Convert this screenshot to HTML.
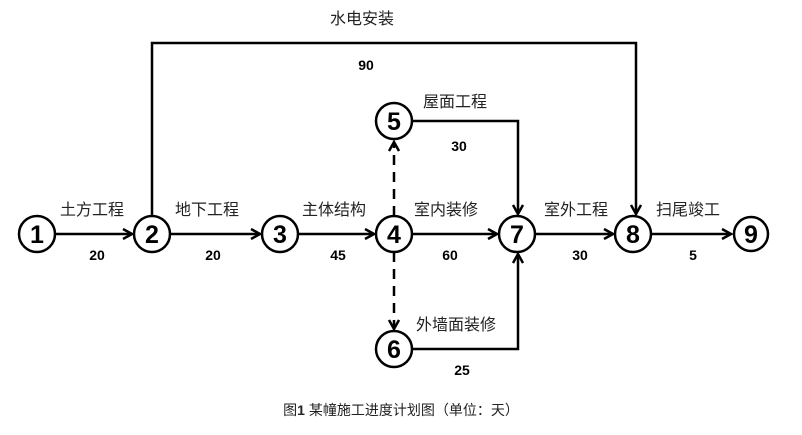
<!DOCTYPE html>
<html><head><meta charset="utf-8"><style>
html,body{margin:0;padding:0;background:#fff;}
svg text{font-family:"Liberation Sans","Noto Sans CJK SC",sans-serif;}
</style></head><body>
<svg width="802" height="430" viewBox="0 0 802 430" xmlns="http://www.w3.org/2000/svg">
<defs>
<marker id="a" markerWidth="12" markerHeight="12" refX="10" refY="6" orient="auto" markerUnits="userSpaceOnUse">
<path d="M1,1 L10,6 L1,11" fill="none" stroke="#000" stroke-width="2.5"/>
</marker>
</defs>
<g stroke="#000" stroke-width="2.5" fill="none">
<line x1="55" y1="234" x2="132" y2="234" marker-end="url(#a)"/>
<line x1="170" y1="234" x2="260" y2="234" marker-end="url(#a)"/>
<line x1="298" y1="234" x2="374" y2="234" marker-end="url(#a)"/>
<line x1="412" y1="234" x2="497" y2="234" marker-end="url(#a)"/>
<line x1="535" y1="234" x2="613" y2="234" marker-end="url(#a)"/>
<line x1="651" y1="234" x2="731" y2="234" marker-end="url(#a)"/>
<polyline points="152,216 152,43 636,43 636,214" marker-end="url(#a)"/>
<polyline points="411,121 518,121 518,214" marker-end="url(#a)"/>
<polyline points="411,349 518,349 518,254" marker-end="url(#a)"/>
<line x1="394" y1="216" x2="394" y2="142" stroke-dasharray="10,7" marker-end="url(#a)"/>
<line x1="394" y1="252" x2="394" y2="329" stroke-dasharray="10,7" marker-end="url(#a)"/>
</g>
<g stroke="#000" stroke-width="2.5" fill="#fff">
<circle cx="37" cy="234" r="18"/><circle cx="152" cy="234" r="18"/><circle cx="280" cy="234" r="18"/>
<circle cx="394" cy="234" r="18"/><circle cx="394" cy="121" r="18"/><circle cx="394" cy="349" r="18"/>
<circle cx="517" cy="234" r="18"/><circle cx="633" cy="234" r="18"/><circle cx="751" cy="234" r="17"/>
</g>
<g font-size="25" font-weight="bold" text-anchor="middle">
<text x="37" y="243">1</text><text x="152" y="243">2</text><text x="280" y="243">3</text>
<text x="394" y="243">4</text><text x="394" y="130">5</text><text x="394" y="358">6</text>
<text x="517" y="243">7</text><text x="633" y="243">8</text><text x="751" y="243">9</text>
</g>
<g font-size="16" fill="#222">
<text x="60" y="215">土方工程</text>
<text x="175" y="215">地下工程</text>
<text x="302" y="215">主体结构</text>
<text x="414" y="215">室内装修</text>
<text x="423" y="107">屋面工程</text>
<text x="416" y="330">外墙面装修</text>
<text x="544" y="215">室外工程</text>
<text x="656" y="215">扫尾竣工</text>
<text x="330" y="24">水电安装</text>
</g>
<g font-size="14" font-weight="bold" text-anchor="middle">
<text x="97" y="260">20</text><text x="213" y="260">20</text><text x="338" y="260">45</text>
<text x="450" y="260">60</text><text x="459" y="151">30</text><text x="462" y="375">25</text>
<text x="580" y="260">30</text><text x="693" y="260">5</text><text x="366" y="70">90</text>
</g>
<text x="401" y="415" font-size="14" text-anchor="middle" fill="#222">图<tspan font-weight="bold">1</tspan> 某幢施工进度计划图（单位：天）</text>
</svg>
</body></html>
